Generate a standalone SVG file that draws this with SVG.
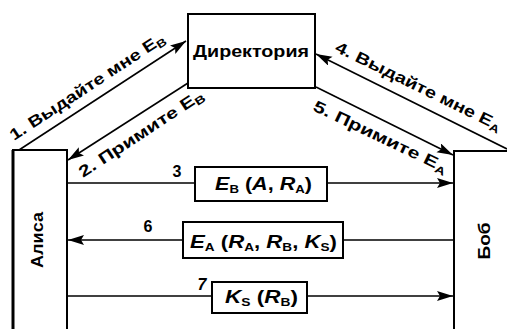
<svg xmlns="http://www.w3.org/2000/svg" width="507" height="329" viewBox="0 0 507 329">
<defs>
<style>
text{font-family:"Liberation Sans",Arial,sans-serif;font-weight:bold;fill:#000}
.lbl{font-size:16px}
.msg{font-size:18px}
.it{font-style:italic}
.sub{font-size:11px;font-style:normal}
.node{font-size:17px}
.ln{stroke:#000;stroke-width:1.6;fill:none}
.box{fill:#fff;stroke:#000;stroke-width:2}
</style>
<marker id="ah" markerUnits="userSpaceOnUse" markerWidth="17" markerHeight="11" refX="16" refY="5" orient="auto">
<path d="M0,0 L16,5 L0,10 L3,5 z" fill="#000"/>
</marker>
</defs>
<rect width="507" height="329" fill="#fff"/>

<g id="connectors">
<line class="ln" x1="19" y1="150" x2="186" y2="41" marker-end="url(#ah)"/>
<line class="ln" x1="188" y1="83" x2="68" y2="160" marker-end="url(#ah)"/>
<line class="ln" x1="507" y1="149" x2="316" y2="54" marker-end="url(#ah)"/>
<line class="ln" x1="316" y1="87" x2="453" y2="155" marker-end="url(#ah)"/>
<line class="ln" x1="67" y1="183" x2="453" y2="183" marker-end="url(#ah)"/>
<line class="ln" x1="454" y1="240" x2="68" y2="240" marker-end="url(#ah)"/>
<line class="ln" x1="67" y1="296" x2="453" y2="296" marker-end="url(#ah)"/>
<text class="lbl" transform="translate(14,141) rotate(-33.3)" textLength="182" lengthAdjust="spacingAndGlyphs">1. Выдайте мне E<tspan class="sub" dy="3">B</tspan></text>
<text class="lbl" transform="translate(83,178) rotate(-33.4)" textLength="146" lengthAdjust="spacingAndGlyphs">2. Примите E<tspan class="sub" dy="3">B</tspan></text>
<text class="lbl" transform="translate(334,51) rotate(26)" textLength="183" lengthAdjust="spacingAndGlyphs">4. Выдайте мне E<tspan class="sub" dy="3">A</tspan></text>
<text class="lbl" transform="translate(312,110) rotate(25.5)" textLength="147" lengthAdjust="spacingAndGlyphs">5. Примите E<tspan class="sub" dy="3">A</tspan></text>
<text class="lbl" x="177" y="177" text-anchor="middle">3</text>
<text class="lbl" x="148" y="232" text-anchor="middle">6</text>
<text class="lbl it" x="202" y="290" text-anchor="middle">7</text>
</g>

<g id="directory">
<rect class="box" x="188" y="14" width="127" height="74"/>
<text class="node" x="251" y="57" text-anchor="middle" textLength="116" lengthAdjust="spacingAndGlyphs">Директория</text>
</g>

<g id="alice">
<path d="M13,329 V150 H67 V329" fill="none" stroke="#000" stroke-width="2"/>
<line x1="13" y1="150" x2="13" y2="329" stroke="#000" stroke-width="3"/>
<text class="node" transform="translate(43,240) rotate(-90)" text-anchor="middle" font-size="15" textLength="56" lengthAdjust="spacingAndGlyphs">Алиса</text>
</g>

<g id="bob">
<path d="M454,329 V151 H507" fill="none" stroke="#000" stroke-width="2"/>
<text class="node" transform="translate(490,241) rotate(-90)" text-anchor="middle" font-size="16" textLength="37" lengthAdjust="spacingAndGlyphs">Боб</text>
</g>

<g id="msg3">
<rect class="box" x="195" y="167" width="132" height="34"/>
<text class="msg" x="215" y="190" textLength="97" lengthAdjust="spacingAndGlyphs"><tspan class="it">E</tspan><tspan class="sub" dy="3">B</tspan><tspan dy="-3"> (</tspan><tspan class="it">A</tspan>, <tspan class="it">R</tspan><tspan class="sub" dy="3">A</tspan><tspan dy="-3">)</tspan></text>
</g>

<g id="msg6">
<rect class="box" x="183" y="222" width="160" height="36"/>
<text class="msg" x="190" y="248" textLength="147" lengthAdjust="spacingAndGlyphs"><tspan class="it">E</tspan><tspan class="sub" dy="3">A</tspan><tspan dy="-3"> (</tspan><tspan class="it">R</tspan><tspan class="sub" dy="3">A</tspan><tspan dy="-3">, </tspan><tspan class="it">R</tspan><tspan class="sub" dy="3">B</tspan><tspan dy="-3">, </tspan><tspan class="it">K</tspan><tspan class="sub" dy="3">S</tspan><tspan dy="-3">)</tspan></text>
</g>

<g id="msg7">
<rect class="box" x="212" y="282" width="95" height="31"/>
<text class="msg" x="225" y="303" textLength="73" lengthAdjust="spacingAndGlyphs"><tspan class="it">K</tspan><tspan class="sub" dy="3">S</tspan><tspan dy="-3"> (</tspan><tspan class="it">R</tspan><tspan class="sub" dy="3">B</tspan><tspan dy="-3">)</tspan></text>
</g>
</svg>
